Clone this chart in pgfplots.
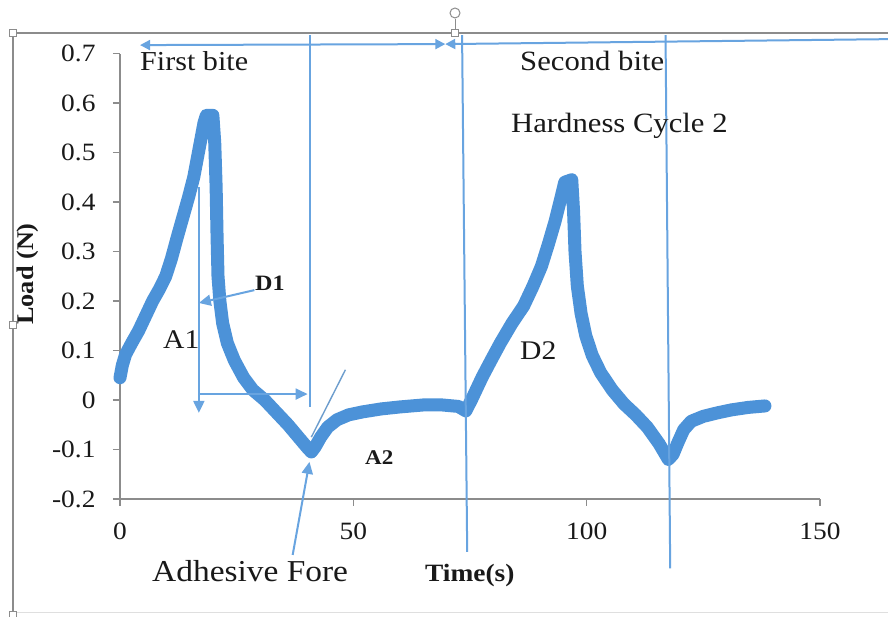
\documentclass[border=0pt]{standalone}
\usepackage{fontspec}
\setmainfont{Liberation Serif}[FakeStretch=1.1]
\usepackage{pgfplots}
\pgfplotsset{compat=1.18}
\usetikzlibrary{arrows.meta}
\definecolor{databl}{RGB}{76,146,216}
\definecolor{annbl}{RGB}{104,164,224}
\definecolor{axgray}{RGB}{140,140,140}
\definecolor{frgray}{RGB}{140,140,140}
\definecolor{txt}{RGB}{25,25,25}
\begin{document}
\begin{tikzpicture}[x=1bp,y=1bp]
\useasboundingbox (-120,-118) rectangle (768,499);
\fill[white] (-120,-118) rectangle (768,499);
\begin{axis}[at={(0,0)}, anchor=south west, scale only axis,
  width=700bp, height=445.5bp,
  xmin=0, xmax=150, ymin=-0.2, ymax=0.7, clip=false,
  axis x line=bottom, axis y line=left,
  axis line style={axgray, line width=1.3bp, -},
  xtick={0,50,100,150},
  ytick={-0.2,-0.1,0,0.1,0.2,0.3,0.4,0.5,0.6,0.7},
  tick align=outside, major tick length=7bp,
  tick style={axgray, line width=1.3bp},
  /pgf/number format/assume math mode=true,
  /pgf/number format/fixed,
  /pgf/number format/precision=1,
  ticklabel style={font=\fontsize{25}{30}\selectfont, text=txt},
  yticklabel style={anchor=east, xshift=-14bp},
  xticklabel style={anchor=north, yshift=-13bp},
]
\addplot[databl, line width=13bp, line join=round, line cap=round] coordinates {
(0,0.045) (0.5,0.07) (1.2,0.092) (2.5,0.115) (4,0.14) (5.5,0.17) (7,0.2)
(8.5,0.225) (9.8,0.25) (11,0.285) (12.3,0.33) (13.5,0.37) (14.7,0.41)
(15.8,0.45) (16.6,0.49) (17.4,0.53) (18.0,0.56) (18.5,0.575) (19.9,0.575)
(20.3,0.52) (20.6,0.43) (20.8,0.33) (21.0,0.25) (21.4,0.2) (22.0,0.155)
(23.0,0.115) (24.5,0.08) (26.5,0.045) (28.5,0.02) (31,0.0) (33.5,-0.025)
(36,-0.05) (38.5,-0.078) (40.2,-0.097) (41.0,-0.105)
(41.8,-0.095) (43,-0.075) (44.5,-0.055) (46.5,-0.04) (49,-0.03) (52,-0.024)
(56,-0.018) (60,-0.014) (65,-0.01) (69,-0.01) (72.5,-0.013) (74.1,-0.022)
(75.3,0.0) (76.3,0.02) (77.6,0.046) (79.5,0.08) (81.5,0.115) (84,0.155)
(86.5,0.19) (88.5,0.23) (90.3,0.27) (91.8,0.315) (93.2,0.36) (94.4,0.405)
(95.3,0.44) (96.8,0.445)
(97.2,0.38) (97.5,0.30) (98.0,0.23) (98.8,0.175) (99.8,0.13) (101.2,0.09)
(103,0.055) (105.5,0.02) (108,-0.008) (110.5,-0.03) (113,-0.055)
(115.5,-0.088) (117.5,-0.12)
(118.5,-0.11) (119.6,-0.085) (120.8,-0.06) (122.4,-0.043) (125,-0.033)
(128,-0.026) (131,-0.02) (134.6,-0.015) (138.2,-0.012)
};
% annotation lines
\draw[annbl, line width=2bp] (axis cs:40.8,0.737) -- (axis cs:40.8,-0.014);
\draw[annbl, line width=2bp] (axis cs:73.3,0.737) -- (axis cs:74.4,-0.307);
\draw[annbl, line width=2bp] (axis cs:116.9,0.737) -- (axis cs:117.9,-0.34);
\draw[annbl, line width=2bp, -{Triangle[length=12bp,width=11bp]}] (axis cs:16.9,0.43) -- (axis cs:16.9,-0.026);
\draw[annbl, line width=2bp, -{Triangle[length=12bp,width=11bp]}] (axis cs:16.9,0.012) -- (axis cs:40.2,0.012);
\draw[annbl, line width=2bp, -{Triangle[length=12bp,width=11bp]}] (axis cs:28.8,0.222) -- (axis cs:16.9,0.196);
\draw[annbl!80!gray, line width=1.4bp] (axis cs:41,-0.075) -- (axis cs:48.3,0.061);
\draw[annbl, line width=2bp, -{Triangle[length=12bp,width=11bp]}] (axis cs:37,-0.313) -- (axis cs:40.6,-0.125);
\draw[annbl, line width=2bp, {Triangle[length=10bp,width=10bp]}-{Triangle[length=10bp,width=10bp]}] (axis cs:4.3,0.717) -- (axis cs:69.7,0.719);
\draw[annbl, line width=2bp, {Triangle[length=10bp,width=10bp]}-] (axis cs:69.7,0.719) -- (axis cs:164.6,0.729);
\end{axis}
% frame
\draw[gray!25, line width=1bp] (-107,-114) -- (768,-114);
\draw[frgray, line width=1.8bp] (-107,-116) -- (-107,466) -- (768,466);
\draw[frgray, line width=1bp] (335,466) -- (335,480);
\draw[frgray, line width=1bp] (335,486) circle (5);
\foreach \p in {(-107,466),(-107,174),(335,466),(-107,-116)}
  \draw[frgray, fill=white, line width=0.8bp] \p ++(-3.5,-3.5) rectangle ++(7,7);
% texts
\node[anchor=base west, inner sep=0, text=txt, font=\fontsize{27.5}{30}\selectfont] at (20,428) {First bite};
\node[anchor=base west, inner sep=0, text=txt, font=\fontsize{28}{30}\selectfont] at (400,428) {Second bite};
\node[anchor=base west, inner sep=0, text=txt, font=\fontsize{28}{30}\selectfont] at (391,366) {Hardness Cycle 2};
\node[anchor=base west, inner sep=0, text=txt, font=\bfseries\fontsize{22}{26}\selectfont] at (135,208) {D1};
\node[anchor=base west, inner sep=0, text=txt, font=\fontsize{27}{30}\selectfont] at (43,150) {A1};
\node[anchor=base west, inner sep=0, text=txt, font=\bfseries\fontsize{21}{26}\selectfont] at (245,34) {A2};
\node[anchor=base west, inner sep=0, text=txt, font=\fontsize{27}{30}\selectfont] at (400,139) {D2};
\node[anchor=base west, inner sep=0, text=txt, font=\fontsize{30.5}{32}\selectfont] at (32,-83) {Adhesive Fore};
\node[anchor=base west, inner sep=0, text=txt, font=\bfseries\fontsize{25}{28}\selectfont] at (305,-83) {Time(s)};
\node[rotate=90, inner sep=0, text=txt, font=\bfseries\fontsize{24}{28}\selectfont] at (-92,225) {Load (N)};
\end{tikzpicture}
\end{document}
